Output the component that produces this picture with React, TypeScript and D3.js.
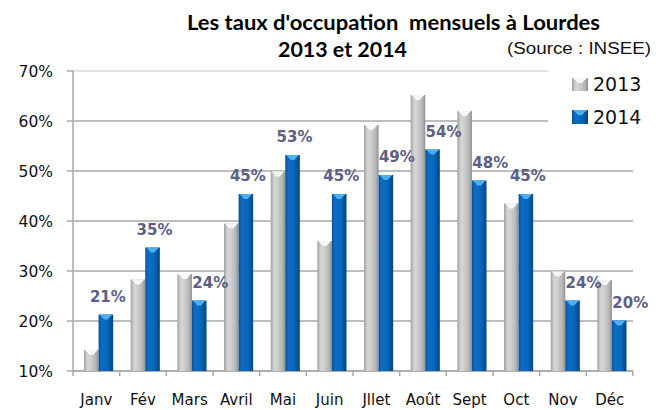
import React from "react";
import * as d3 from "d3";

const months = ["Janv", "Fév", "Mars", "Avril", "Mai", "Juin", "Jllet", "Août", "Sept", "Oct", "Nov", "Déc"];
const series = ["2013", "2014"];
const values2013 = [14.2, 28.3, 29.4, 39.5, 49.9, 36, 59.2, 65.2, 62, 43.5, 29.9, 28.2];
const values2014 = [21.3, 34.7, 24.1, 45.4, 53.2, 45.4, 49.2, 54.3, 48.1, 45.4, 24.1, 20.1];
const yTicks = [10, 20, 30, 40, 50, 60, 70];
const titleLine1 = "Les taux d'occupation  mensuels à Lourdes";
const titleLine2 = "2013 et 2014";
const sourceText = "(Source : INSEE)";

const W = 665;
const H = 410;
const X0 = 73;
const X1 = 633;
const Y0 = 371;
const Y1 = 71;

export default function App() {
  const x = d3.scaleBand<string>().domain(months).range([X0, X1]).padding(0);
  const bw = x.bandwidth();
  const xs = d3.scaleBand<string>().domain(series).range([11, bw - 6.5]).padding(0);
  const y = d3.scaleLinear().domain([10, 70]).range([Y0, Y1]);
  const barW = xs.bandwidth();

  const gridColor = "#a9a9a9";
  const font = "'DejaVu Sans', sans-serif";

  const cap = (bx: number, top: number, w: number) =>
    `M${bx + 1},${top} L${bx + w - 1},${top} L${bx + w * 0.62},${top + 5} L${bx + w * 0.38},${top + 5} Z`;

  return (
    <svg width={W} height={H} style={{ position: "absolute", left: 0, top: 0, background: "#fff" }}>
      <defs>
        <linearGradient id="gGray" x1="0" x2="1" y1="0" y2="0">
          <stop offset="0%" stopColor="#a2a2a2" />
          <stop offset="25%" stopColor="#d6d6d6" />
          <stop offset="45%" stopColor="#d0d0d0" />
          <stop offset="80%" stopColor="#b6b6b6" />
          <stop offset="100%" stopColor="#8e8e8e" />
        </linearGradient>
        <linearGradient id="gBlue" x1="0" x2="1" y1="0" y2="0">
          <stop offset="0%" stopColor="#0a5096" />
          <stop offset="20%" stopColor="#0c6cc4" />
          <stop offset="60%" stopColor="#0968bc" />
          <stop offset="100%" stopColor="#054682" />
        </linearGradient>
      </defs>

      {/* gridlines */}
      {yTicks.map((t) => (
        <line
          key={"g" + t}
          x1={X0}
          x2={t >= 60 ? 548 : X1}
          y1={y(t)}
          y2={y(t)}
          stroke={t === 70 ? "#d8d8d8" : gridColor}
          strokeWidth={1.5}
        />
      ))}

      {/* y axis */}
      <line x1={X0} x2={X0} y1={Y1} y2={Y0} stroke={gridColor} strokeWidth={1.5} />
      {yTicks.map((t) => (
        <g key={"yt" + t}>
          <line x1={X0 - 6} x2={X0} y1={y(t)} y2={y(t)} stroke={gridColor} strokeWidth={1.5} />
          <text
            x={53}
            y={y(t)}
            dy="0.36em"
            textAnchor="end"
            fontFamily={font}
            fontSize={15.5}
            fill="#111"
          >
            {t}%
          </text>
        </g>
      ))}

      {/* x axis */}
      <line x1={X0} x2={X1} y1={Y0} y2={Y0} stroke={gridColor} strokeWidth={1.5} />
      {[...months.map((m) => x(m) as number), X1].map((px, i) => (
        <line key={"xt" + i} x1={px} x2={px} y1={Y0} y2={Y0 + 5} stroke={gridColor} strokeWidth={1.5} />
      ))}
      {months.map((m) => (
        <text
          key={"ml" + m}
          x={(x(m) as number) + bw / 2}
          y={405}
          textAnchor="middle"
          fontFamily={font}
          fontSize={15}
          fill="#111"
        >
          {m}
        </text>
      ))}

      {/* bars */}
      {months.map((m, i) => {
        const gx = (x(m) as number) + (xs("2013") as number);
        const bx = (x(m) as number) + (xs("2014") as number);
        const gt = y(values2013[i]);
        const bt = y(values2014[i]);
        return (
          <g key={"b" + m}>
            <rect x={gx} y={gt} width={barW} height={Y0 - gt} fill="url(#gGray)" />
            <path d={cap(gx, gt, barW)} fill="#f6f6f6" />
            <rect x={bx} y={bt} width={barW} height={Y0 - bt} fill="url(#gBlue)" />
            <path d={cap(bx, bt, barW)} fill="#4ab0f2" />
          </g>
        );
      })}

      {/* data labels for 2014 */}
      {months.map((m, i) => {
        const bx = (x(m) as number) + (xs("2014") as number) + barW / 2;
        const shift = values2013[i] > values2014[i] ? 11 : 2;
        return (
          <text
            key={"dl" + m}
            x={bx + shift}
            y={y(values2014[i]) - 13}
            textAnchor="middle"
            fontFamily={font}
            fontWeight="bold"
            fontSize={15}
            fill="#5c6086"
          >
            {Math.round(values2014[i])}%
          </text>
        );
      })}

      {/* legend */}
      <rect x={550} y={66} width={115} height={66} fill="#fff" />
      <rect x={572} y={78} width={16} height={13} fill="url(#gGray)" />
      <path d={cap(572, 78, 16)} fill="#f6f6f6" />
      <text x={593} y={91} fontFamily={font} fontSize={19} fill="#111">
        {series[0]}
      </text>
      <rect x={572} y={110} width={16} height={14} fill="url(#gBlue)" />
      <path d={cap(572, 110, 16)} fill="#4ab0f2" />
      <text x={593} y={124} fontFamily={font} fontSize={19} fill="#111">
        {series[1]}
      </text>

      {/* titles */}
      <text
        x={187}
        y={30}
        fontFamily="Lato, 'Open Sans', sans-serif"
        fontWeight="bold"
        fontSize={21}
        textLength={413}
        lengthAdjust="spacingAndGlyphs"
        fill="#000"
        style={{ whiteSpace: "pre" }}
      >
        {titleLine1}
      </text>
      <text
        x={278}
        y={57}
        fontFamily="Lato, 'Open Sans', sans-serif"
        fontWeight="bold"
        fontSize={21}
        textLength={129}
        lengthAdjust="spacingAndGlyphs"
        fill="#000"
      >
        {titleLine2}
      </text>
      <text
        x={507}
        y={54}
        fontFamily="'Liberation Sans', Arial, sans-serif"
        fontSize={16}
        textLength={144}
        lengthAdjust="spacingAndGlyphs"
        fill="#111"
      >
        {sourceText}
      </text>
    </svg>
  );
}
